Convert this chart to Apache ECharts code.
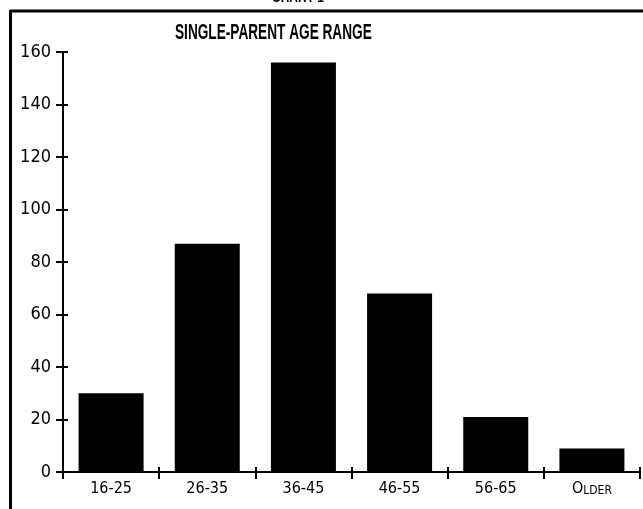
<!DOCTYPE html>
<html>
<head>
<meta charset="utf-8">
<title>Single-Parent Age Range</title>
<script src="https://cdn.jsdelivr.net/npm/echarts@6/dist/echarts.min.js"></script>
<style>
  html, body { margin: 0; padding: 0; background: #fff; }
  #chart { width: 643px; height: 509px; }
</style>
</head>
<body>
<div id="chart"></div>
<script>
// Age brackets and how many single parents fall in each
const ageRanges = ['16-25', '26-35', '36-45', '46-55', '56-65', 'OLDER'];
const parentCounts = [30, 87, 156, 68, 21, 9];

// Value axis scale
const yMin = 0;
const yMax = 160;
const yStep = 20;

const NARROW = '"DejaVu Sans Condensed", "Liberation Sans", sans-serif';
const HEAD = '"Liberation Sans", Arial, sans-serif';

const chart = echarts.init(document.getElementById('chart'), null, { renderer: 'canvas' });

chart.setOption({
  backgroundColor: '#ffffff',
  animation: false,
  grid: { left: 63, right: 3, top: 52, bottom: 37, containLabel: false },
  xAxis: [
    {
      type: 'category',
      data: ageRanges,
      boundaryGap: true,
      axisLine: { lineStyle: { color: '#000', width: 2 } },
      axisTick: { show: true, interval: 0, length: 7, lineStyle: { color: '#000', width: 2 } },
      axisLabel: {
        interval: 0,
        margin: 9,
        color: '#000',
        fontFamily: NARROW,
        fontSize: 16,
        formatter: function (v) {
          // small-caps style for the last bracket
          if (v === 'OLDER') return '{big|O}{small|LDER}';
          return v;
        },
        rich: {
          big: { fontFamily: NARROW, fontSize: 16, color: '#000' },
          small: { fontFamily: NARROW, fontSize: 12, color: '#000', padding: [3, 0, 0, 0] }
        }
      },
      splitLine: { show: false }
    },
    {
      // inner half of the crossing ticks
      type: 'category',
      data: ageRanges,
      position: 'bottom',
      axisLine: { show: true, lineStyle: { color: '#000', width: 0, opacity: 0 } },
      axisTick: { show: true, interval: 0, inside: true, length: 5, lineStyle: { color: '#000', width: 2 } },
      axisLabel: { show: false },
      splitLine: { show: false }
    }
  ],
  yAxis: [
    {
      type: 'value',
      min: yMin,
      max: yMax,
      interval: yStep,
      axisLine: { show: true, lineStyle: { color: '#000', width: 2 } },
      axisTick: { show: true, length: 7, lineStyle: { color: '#000', width: 2 } },
      axisLabel: { margin: 12, color: '#000', fontFamily: NARROW, fontSize: 18 },
      splitLine: { show: false }
    },
    {
      // inner half of the crossing ticks
      type: 'value',
      min: yMin,
      max: yMax,
      interval: yStep,
      position: 'left',
      offset: 0,
      axisLine: { show: true, lineStyle: { color: '#000', width: 0, opacity: 0 } },
      axisTick: { show: true, inside: true, length: 5, lineStyle: { color: '#000', width: 2 } },
      axisLabel: { show: false },
      splitLine: { show: false }
    }
  ],
  series: [
    {
      type: 'bar',
      xAxisIndex: 0,
      yAxisIndex: 0,
      data: parentCounts,
      barWidth: 65,
      itemStyle: { color: '#000' }
    }
  ],
  graphic: [
    // frame around the figure
    { type: 'line', shape: { x1: 10, y1: 11, x2: 643, y2: 11 }, style: { stroke: '#000', lineWidth: 3 } },
    { type: 'line', shape: { x1: 10.5, y1: 10, x2: 10.5, y2: 509 }, style: { stroke: '#000', lineWidth: 3 } },
    // chart heading, condensed bold
    {
      type: 'text', x: 175, y: 22, scaleX: 0.62,
      style: { text: 'SINGLE-PARENT AGE RANGE', font: 'bold 22px ' + HEAD, fill: '#000', textVerticalAlign: 'top' }
    },
    // figure caption running off the top edge
    {
      type: 'text', x: 272, y: -10, scaleX: 0.8,
      style: { text: 'CHART 1', font: 'bold 15px ' + HEAD, fill: '#000', textVerticalAlign: 'top' }
    }
  ]
});
</script>
</body>
</html>
